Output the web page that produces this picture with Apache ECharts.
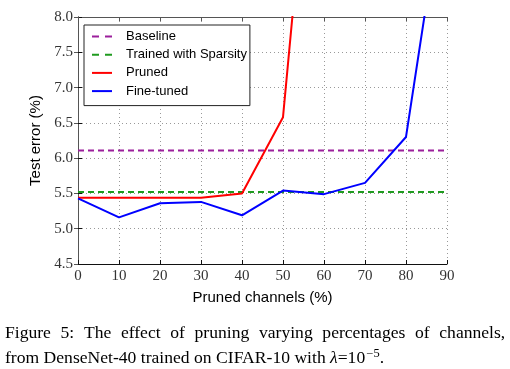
<!DOCTYPE html>
<html><head><meta charset="utf-8">
<script src="https://cdn.jsdelivr.net/npm/echarts@6/dist/echarts.min.js"></script>
<style>html,body{margin:0;padding:0;background:#fff}#c{width:510px;height:369px}</style>
</head><body><div id="c"></div>
<script>
const xTicks = [0,10,20,30,40,50,60,70,80,90];
const yTicks = [4.5,5.0,5.5,6.0,6.5,7.0,7.5,8.0];
const prunedX = [0,10,20,30,40,50,60];
const prunedY = [5.44,5.44,5.44,5.44,5.50,6.58,12.8];
const fineX = [0,10,20,30,40,50,60,70,80,90];
const fineY = [5.43,5.16,5.36,5.38,5.19,5.54,5.49,5.65,6.30,10.1];
const baselineY = 6.11;
const sparsityY = 5.52;
const seriesNames = ['Baseline','Trained with Sparsity','Pruned','Fine-tuned'];
const caption1 = ['Figure','5:','The','effect','of','pruning','varying','percentages','of','channels,'];

const chart = echarts.init(document.getElementById('c'), null, {renderer:'canvas'});
const serif = 'Liberation Serif';
const sans = 'Liberation Sans';
const pair = (xs, ys) => xs.map((x,i)=>[x, ys[i]]);
const flat = v => [[xTicks[0], v],[xTicks[xTicks.length-1], v]];
const dashIcon = 'path://M0 0H7V2H0Z M13 0H20V2H13Z';
const solidIcon = 'path://M0 0H20V2H0Z';

const line1 = caption1.map(w => '{w|' + w + '}').join('{g| }');

chart.setOption({
  animation:false,
  grid:{left:78,right:63,top:17,bottom:105,show:false},
  legend:{
    orient:'vertical', left:84, top:25,
    data:[
      {name:seriesNames[0],icon:dashIcon},
      {name:seriesNames[1],icon:dashIcon},
      {name:seriesNames[2],icon:solidIcon},
      {name:seriesNames[3],icon:solidIcon}
    ],
    itemWidth:20, itemHeight:2, itemGap:5.2,
    padding:[5,3,8,8],
    backgroundColor:'#fff', borderColor:'#222', borderWidth:1, borderRadius:0,
    textStyle:{fontFamily:sans,fontSize:13,color:'#000',padding:[0,0,0,9]}
  },
  xAxis:[{
    type:'value', min:0, max:90, interval:10,
    name:'Pruned channels (%)', nameLocation:'middle', nameGap:26,
    nameTextStyle:{fontFamily:sans,fontSize:15,color:'#000'},
    axisLine:{show:true,onZero:false,lineStyle:{color:'#111',width:1}},
    axisTick:{show:true,inside:true,length:4,lineStyle:{color:'#111'}},
    axisLabel:{fontFamily:serif,fontSize:15,color:'#333',margin:5},
    splitLine:{show:true,lineStyle:{color:'#999',type:[1,3],width:1}}
  },{
    type:'value', min:0, max:90, interval:10, position:'top',
    axisLine:{show:true,lineStyle:{color:'#555',width:1}},
    axisTick:{show:true,inside:true,length:4,lineStyle:{color:'#555'}},
    axisLabel:{show:false}, splitLine:{show:false}
  }],
  yAxis:[{
    type:'value', min:4.5, max:8, interval:0.5,
    name:'Test error (%)', nameLocation:'middle', nameGap:28,
    nameTextStyle:{fontFamily:sans,fontSize:15,color:'#000'},
    axisLine:{show:true,onZero:false,lineStyle:{color:'#111',width:1}},
    axisTick:{show:true,inside:true,length:4,lineStyle:{color:'#111'}},
    axisLabel:{fontFamily:serif,fontSize:15,color:'#333',margin:5,formatter:v=>v.toFixed(1)},
    splitLine:{show:true,lineStyle:{color:'#999',type:[1,3],width:1}}
  },{
    type:'value', min:4.5, max:8, interval:0.5, position:'right',
    axisLine:{show:true,lineStyle:{color:'#555',width:1}},
    axisTick:{show:true,inside:true,length:4,lineStyle:{color:'#555'}},
    axisLabel:{show:false}, splitLine:{show:false}
  }],
  series:[
    {name:seriesNames[0],type:'line',data:flat(baselineY),symbol:'none',color:'#9b1f9b',
     lineStyle:{width:2,type:[6,4],color:'#9b1f9b'},clip:true},
    {name:seriesNames[1],type:'line',data:flat(sparsityY),symbol:'none',color:'#1f9b1f',
     lineStyle:{width:2,type:[6,4],color:'#1f9b1f'},clip:true},
    {name:seriesNames[2],type:'line',data:pair(prunedX,prunedY),symbol:'none',color:'#ff0000',
     lineStyle:{width:2,color:'#ff0000'},clip:true,z:3},
    {name:seriesNames[3],type:'line',data:pair(fineX,fineY),symbol:'none',color:'#0000ff',
     lineStyle:{width:2,color:'#0000ff'},clip:true,z:4}
  ],
  graphic:[
    {type:'text',x:5,y:325,scaleX:1.135,scaleY:1.05,style:{
      text:line1,
      rich:{
        w:{fontFamily:serif,fontSize:15.5,color:'#000'},
        g:{fontFamily:serif,fontSize:15.5,width:8.5}
      }}},
    {type:'text',x:5,y:348,scaleX:1.135,scaleY:1.05,style:{
      text:'{a|from DenseNet-40 trained on CIFAR-10 with }{i|λ}{a|=10}{s|−5}{a|.}',
      rich:{
        a:{fontFamily:serif,fontSize:15.5,color:'#000'},
        i:{fontFamily:serif,fontStyle:'italic',fontSize:15.5,color:'#000'},
        s:{fontFamily:serif,fontSize:11,color:'#000',padding:[0,0,9,1]}
      }}}
  ]
});
</script></body></html>
